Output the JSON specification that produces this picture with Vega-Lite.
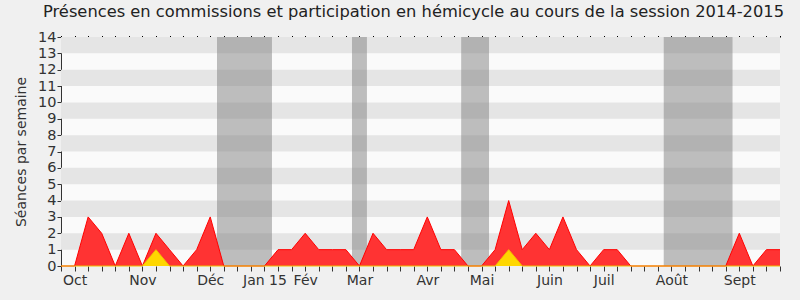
{
  "$schema": "https://vega.github.io/schema/vega-lite/v6.json",
  "width": 719,
  "height": 229,
  "autosize": {"type": "none"},
  "padding": {"left": 61, "top": 37, "right": 20, "bottom": 34},
  "background": "#f0f0f0",
  "config": {
    "view": {"fill": "#fafafa", "stroke": null},
    "font": "DejaVu Sans"
  },
  "title": {
    "text": "Présences en commissions et participation en hémicycle au cours de la session 2014-2015",
    "fontSize": 16.3,
    "fontWeight": "normal",
    "color": "#222222",
    "font": "DejaVu Sans",
    "anchor": "middle",
    "dx": -7,
    "offset": 9
  },
  "datasets": {
    "weeks": [
      {"w": 0, "com": 0, "hem": 0}, {"w": 1, "com": 0, "hem": 0}, {"w": 2, "com": 3, "hem": 0},
      {"w": 3, "com": 2, "hem": 0}, {"w": 4, "com": 0, "hem": 0}, {"w": 5, "com": 2, "hem": 0},
      {"w": 6, "com": 0, "hem": 0}, {"w": 7, "com": 2, "hem": 1}, {"w": 8, "com": 1, "hem": 0},
      {"w": 9, "com": 0, "hem": 0}, {"w": 10, "com": 1, "hem": 0}, {"w": 11, "com": 3, "hem": 0},
      {"w": 12, "com": 0, "hem": 0}, {"w": 13, "com": 0, "hem": 0}, {"w": 14, "com": 0, "hem": 0},
      {"w": 15, "com": 0, "hem": 0}, {"w": 16, "com": 1, "hem": 0}, {"w": 17, "com": 1, "hem": 0},
      {"w": 18, "com": 2, "hem": 0}, {"w": 19, "com": 1, "hem": 0}, {"w": 20, "com": 1, "hem": 0},
      {"w": 21, "com": 1, "hem": 0}, {"w": 22, "com": 0, "hem": 0}, {"w": 23, "com": 2, "hem": 0},
      {"w": 24, "com": 1, "hem": 0}, {"w": 25, "com": 1, "hem": 0}, {"w": 26, "com": 1, "hem": 0},
      {"w": 27, "com": 3, "hem": 0}, {"w": 28, "com": 1, "hem": 0}, {"w": 29, "com": 1, "hem": 0},
      {"w": 30, "com": 0, "hem": 0}, {"w": 31, "com": 0, "hem": 0}, {"w": 32, "com": 1, "hem": 0},
      {"w": 33, "com": 4, "hem": 1}, {"w": 34, "com": 1, "hem": 0}, {"w": 35, "com": 2, "hem": 0},
      {"w": 36, "com": 1, "hem": 0}, {"w": 37, "com": 3, "hem": 0}, {"w": 38, "com": 1, "hem": 0},
      {"w": 39, "com": 0, "hem": 0}, {"w": 40, "com": 1, "hem": 0}, {"w": 41, "com": 1, "hem": 0},
      {"w": 42, "com": 0, "hem": 0}, {"w": 43, "com": 0, "hem": 0}, {"w": 44, "com": 0, "hem": 0},
      {"w": 45, "com": 0, "hem": 0}, {"w": 46, "com": 0, "hem": 0}, {"w": 47, "com": 0, "hem": 0},
      {"w": 48, "com": 0, "hem": 0}, {"w": 49, "com": 0, "hem": 0}, {"w": 50, "com": 2, "hem": 0},
      {"w": 51, "com": 0, "hem": 0}, {"w": 52, "com": 1, "hem": 0}, {"w": 53, "com": 1, "hem": 0}
    ],
    "stripes": [
      {"y0": 1, "y1": 2}, {"y0": 3, "y1": 4}, {"y0": 5, "y1": 6}, {"y0": 7, "y1": 8},
      {"y0": 9, "y1": 10}, {"y0": 11, "y1": 12}, {"y0": 13, "y1": 14}
    ],
    "vacances": [
      {"x0": 11.5, "x1": 15.55}, {"x0": 21.45, "x1": 22.55},
      {"x0": 29.5, "x1": 31.55}, {"x0": 44.43, "x1": 49.5}
    ]
  },
  "layer": [
    {
      "data": {"name": "stripes"},
      "mark": {"type": "rect", "color": "#e5e5e5"},
      "encoding": {
        "y": {"field": "y0", "type": "quantitative", "scale": {"domain": [0, 14], "nice": false}, "axis": null},
        "y2": {"field": "y1"}
      }
    },
    {
      "data": {"name": "vacances"},
      "mark": {"type": "rect", "color": "#808080", "opacity": 0.5},
      "encoding": {
        "x": {
          "field": "x0", "type": "quantitative",
          "scale": {"domain": [0, 53], "nice": false, "zero": false},
          "axis": {
            "orient": "top",
            "title": null,
            "values": [0,1,2,3,4,5,6,7,8,9,10,11,12,13,14,15,16,17,18,19,20,21,22,23,24,25,26,27,28,29,30,31,32,33,34,35,36,37,38,39,40,41,42,43,44,45,46,47,48,49,50,51,52,53],
            "labels": false,
            "ticks": true,
            "tickSize": 1.5,
            "tickWidth": 1,
            "tickColor": "#000000",
            "domain": false,
            "grid": false
          }
        },
        "x2": {"field": "x1"}
      }
    },
    {
      "data": {"name": "weeks"},
      "mark": {"type": "area", "color": "#ff3333", "opacity": 1, "line": {"color": "#ff0000", "strokeWidth": 1}},
      "encoding": {
        "x": {
          "field": "w", "type": "quantitative",
          "scale": {"domain": [0, 53], "nice": false, "zero": false},
          "axis": {
            "orient": "bottom",
            "title": null,
            "values": [0,1,2,3,4,5,6,7,8,9,10,11,12,13,14,15,16,17,18,19,20,21,22,23,24,25,26,27,28,29,30,31,32,33,34,35,36,37,38,39,40,41,42,43,44,45,46,47,48,49,50,51,52,53],
            "labelExpr": "datum.value == 1 ? 'Oct' : datum.value == 6 ? 'Nov' : datum.value == 11 ? 'Déc' : datum.value == 15 ? 'Jan 15' : datum.value == 18 ? 'Fév' : datum.value == 22 ? 'Mar' : datum.value == 27 ? 'Avr' : datum.value == 31 ? 'Mai' : datum.value == 36 ? 'Juin' : datum.value == 40 ? 'Juil' : datum.value == 45 ? 'Août' : datum.value == 50 ? 'Sept' : ''",
            "labelOverlap": false,
            "labelFontSize": 14,
            "labelColor": "#333333",
            "labelPadding": 2,
            "ticks": true,
            "tickSize": 5,
            "tickWidth": 1,
            "tickColor": "#333333",
            "domain": false,
            "grid": false
          }
        },
        "y": {
          "field": "com", "type": "quantitative",
          "scale": {"domain": [0, 14], "nice": false},
          "axis": {
            "title": "Séances par semaine",
            "titleFontSize": 14,
            "titleFontWeight": "normal",
            "titleColor": "#333333",
            "titlePadding": 9,
            "values": [0,1,2,3,4,5,6,7,8,9,10,11,12,13,14],
            "labelOverlap": false,
            "labelFontSize": 14.5,
            "labelColor": "#333333",
            "labelPadding": 1,
            "tickSize": 4,
            "tickColor": "#333333",
            "domainColor": "#333333",
            "grid": false
          }
        }
      }
    },
    {
      "data": {"name": "weeks"},
      "mark": {"type": "area", "color": "#ffd700", "opacity": 1, "line": {"color": "#f0c000", "strokeWidth": 1}},
      "encoding": {
        "x": {"field": "w", "type": "quantitative", "scale": {"domain": [0, 53], "nice": false, "zero": false}, "axis": null},
        "y": {"field": "hem", "type": "quantitative", "scale": {"domain": [0, 14], "nice": false}, "axis": null}
      }
    },
    {
      "mark": {"type": "rule", "color": "#006400", "strokeWidth": 1},
      "encoding": {
        "y": {"datum": 0, "type": "quantitative", "scale": {"domain": [0, 14], "nice": false}, "axis": null}
      }
    }
  ],
  "resolve": {"axis": {"x": "independent", "y": "independent"}}
}
